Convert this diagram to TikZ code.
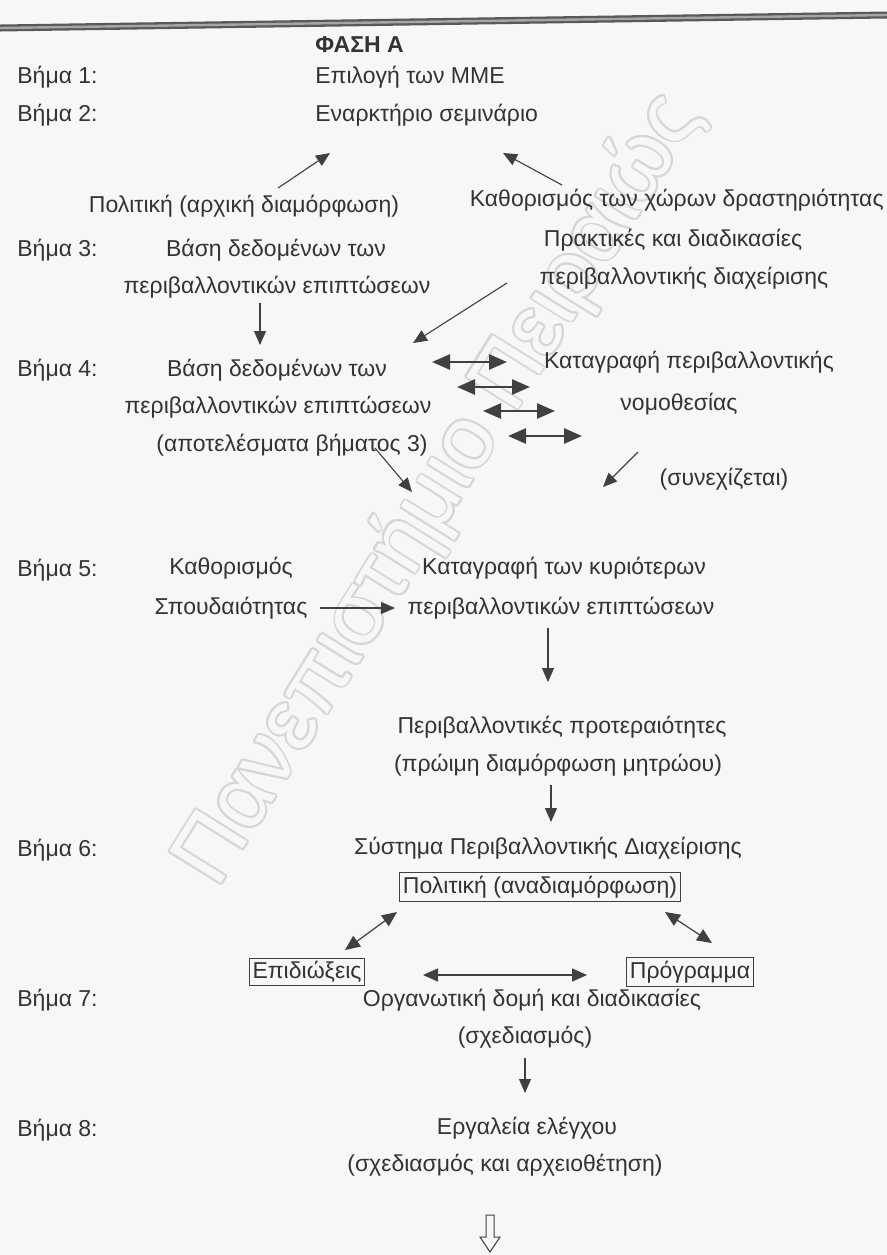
\documentclass[tikz,border=0pt]{standalone}
\usepackage{fontspec}
\setmainfont{Liberation Sans}
\usepackage{contour}
\usetikzlibrary{arrows.meta, calc, positioning}
\tikzset{
    txt/.style={inner sep=1pt, text=black!80, font=\fontsize{11.5}{13}\selectfont},
    stepTxt/.style={txt, anchor=west},
    boxTxt/.style={txt, draw=black!75, line width=0.5pt, inner sep=1.5pt},
    flowEdge/.style={-{Triangle[length=7pt, width=6pt]}, line width=0.55pt, draw=black!75, fill=black!75},
    flowBoth/.style={{Triangle[length=7.5pt, width=6.5pt]}-{Triangle[length=7.5pt, width=6.5pt]}, line width=0.6pt, draw=black!75, fill=black!75},
    flowBold/.style={{Triangle[length=9pt, width=7.5pt]}-{Triangle[length=9pt, width=7.5pt]}, line width=1.3pt, draw=black!75, fill=black!75},
}
\newcommand{\drawFlow}[3][flowEdge]{
    \draw[#1] (#2) -- (#3);
}
\begin{document}
\begin{tikzpicture}[x=0.5pt, y=-0.5pt]
    \useasboundingbox[fill=black!3] (0,0) rectangle (887,1255);

    % watermark
    \contourlength{0.9pt}
    \contournumber{16}
    \node[rotate=58, font=\fontsize{44}{46}\selectfont] (wm) at (440,490)
        {\contour{black!16}{\textcolor{black!3}{Πανεπιστήμιο Πειραιώς}}};

    % top rule
    \draw[line width=3.5pt, black!65] (0,28) -- (887,15);
    \draw[line width=1.2pt, black!35] (0,28) -- (887,15);

    % steps
    \node[txt, anchor=west, font=\fontsize{11.5}{13}\selectfont\bfseries] (phase) at (313,45) {ΦΑΣΗ Α};
    \foreach \n/\y in {1/77, 2/115, 3/250, 4/370, 5/570, 6/850, 7/1000, 8/1130}
        \node[stepTxt] (step\n) at (15,\y) {Βήμα \n:};

    % step 1-2
    \node[txt, anchor=west] (sel) at (313,77) {Επιλογή των ΜΜΕ};
    \node[txt, anchor=west] (sem) at (313,115) {Εναρκτήριο σεμινάριο};
    \node[txt] (pol1) at (244,206) {Πολιτική (αρχική διαμόρφωση)};
    \node[txt, anchor=east] (area) at (886,200) {Καθορισμός των χώρων δραστηριότητας};

    % step 3
    \node[txt] (db3a) at (276,250) {Βάση δεδομένων των};
    \node[txt] (db3b) at (277,287) {περιβαλλοντικών επιπτώσεων};
    \node[txt] (praca) at (673,240) {Πρακτικές και διαδικασίες};
    \node[txt] (pracb) at (684,278) {περιβαλλοντικής διαχείρισης};

    % step 4
    \node[txt] (db4a) at (277,370) {Βάση δεδομένων των};
    \node[txt] (db4b) at (278,407) {περιβαλλοντικών επιπτώσεων};
    \node[txt] (db4c) at (292,445) {(αποτελέσματα βήματος 3)};
    \node[txt] (lawa) at (689,362) {Καταγραφή περιβαλλοντικής};
    \node[txt] (lawb) at (679,404) {νομοθεσίας};
    \node[txt] (cont) at (724,479) {(συνεχίζεται)};

    % step 5
    \node[txt] (prioa) at (231,568) {Καθορισμός};
    \node[txt] (priob) at (231,608) {Σπουδαιότητας};
    \node[txt] (impa) at (564,568) {Καταγραφή των κυριότερων};
    \node[txt] (impb) at (561,608) {περιβαλλοντικών επιπτώσεων};
    \node[txt] (envpa) at (562,727) {Περιβαλλοντικές προτεραιότητες};
    \node[txt] (envpb) at (558,765) {(πρώιμη διαμόρφωση μητρώου)};

    % step 6-8
    \node[txt] (ems) at (548,848) {Σύστημα Περιβαλλοντικής Διαχείρισης};
    \node[boxTxt] (pol2) at (540,887) {Πολιτική (αναδιαμόρφωση)};
    \node[boxTxt] (obj) at (307,972) {Επιδιώξεις};
    \node[boxTxt] (prog) at (690,972) {Πρόγραμμα};
    \node[txt] (orga) at (532,1000) {Οργανωτική δομή και διαδικασίες};
    \node[txt] (orgb) at (525,1037) {(σχεδιασμός)};
    \node[txt] (ctrla) at (527,1128) {Εργαλεία ελέγχου};
    \node[txt] (ctrlb) at (505,1165) {(σχεδιασμός και αρχειοθέτηση)};

    % arrow ends
    \coordinate (p1t) at (278,188);  \coordinate (p1h) at (330,153);
    \coordinate (art) at (562,185);  \coordinate (arh) at (503,153);
    \coordinate (d3t) at (260,303);  \coordinate (d3h) at (260,345);
    \coordinate (prt) at (507,283);  \coordinate (prh) at (413,343);
    \coordinate (c1t) at (375,448);  \coordinate (c1h) at (412,492);
    \coordinate (c2t) at (638,452);  \coordinate (c2h) at (603,487);
    \coordinate (s5t) at (320,608);  \coordinate (s5h) at (395,608);
    \coordinate (d5t) at (548,628);  \coordinate (d5h) at (548,682);
    \coordinate (d6t) at (551,785);  \coordinate (d6h) at (551,822);
    \coordinate (o1) at (345,950);   \coordinate (o2) at (397,912);
    \coordinate (r1) at (665,912);   \coordinate (r2) at (712,943);
    \coordinate (h1) at (423,975);   \coordinate (h2) at (587,975);
    \coordinate (d7t) at (525,1058); \coordinate (d7h) at (525,1093);

    \drawFlow{p1t}{p1h}
    \drawFlow{art}{arh}
    \drawFlow{d3t}{d3h}
    \drawFlow{prt}{prh}
    \foreach \i/\xa/\xb/\y in {1/432/507/362, 2/457/530/387, 3/483/555/411, 4/508/582/436} {
        \coordinate (la\i) at (\xa,\y);
        \coordinate (lb\i) at (\xb,\y);
        \drawFlow[flowBold]{la\i}{lb\i}
    }
    \drawFlow{c1t}{c1h}
    \drawFlow{c2t}{c2h}
    \drawFlow{s5t}{s5h}
    \drawFlow{d5t}{d5h}
    \drawFlow{d6t}{d6h}
    \drawFlow[flowBoth]{o1}{o2}
    \drawFlow[flowBoth]{r1}{r2}
    \drawFlow[flowBoth]{h1}{h2}
    \drawFlow{d7t}{d7h}

    % continuation arrow
    \draw[black!75, line width=0.5pt] (486,1215) -- (494,1215) -- (494,1237) -- (500,1237)
        -- (490,1252) -- (480,1237) -- (486,1237) -- cycle;

\end{tikzpicture}
\end{document}
